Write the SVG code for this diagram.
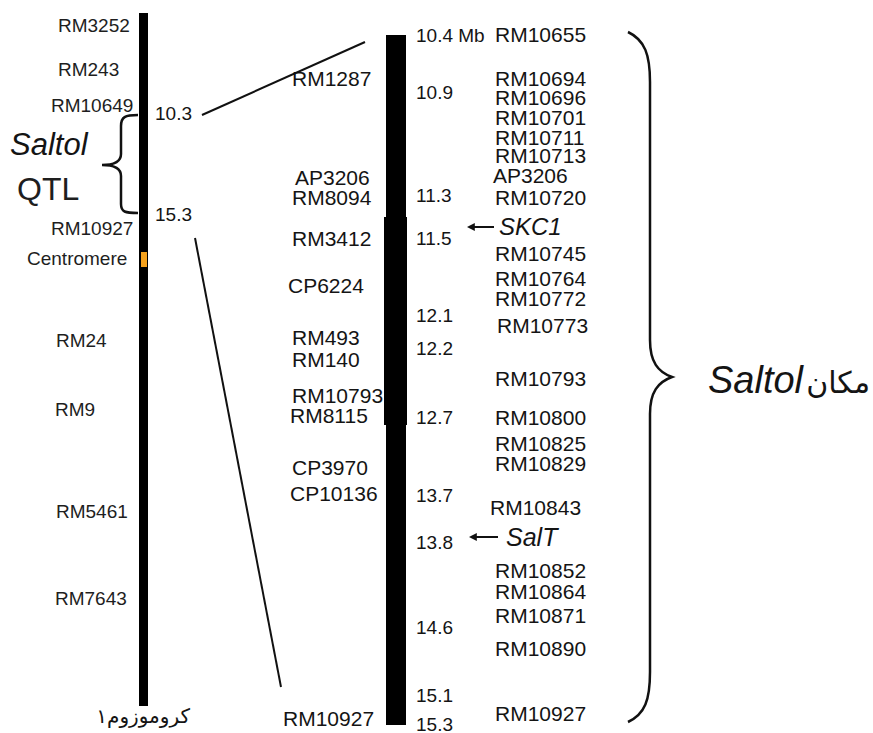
<svg xmlns="http://www.w3.org/2000/svg" width="873" height="733" viewBox="0 0 873 733">
<style>
.l{font-family:"Liberation Sans",Arial,sans-serif;font-size:19px;fill:#1e1e1e}
.m{font-family:"Liberation Sans",Arial,sans-serif;font-size:21px;fill:#141414}
.n{font-family:"Liberation Sans",Arial,sans-serif;font-size:19px;fill:#141414}
.it{font-family:"Liberation Sans",Arial,sans-serif;font-style:italic;fill:#141414}
.fa{font-family:"DejaVu Sans","Noto Sans",sans-serif;fill:#141414}
.ln{stroke:#111;stroke-width:2;fill:none}
.br{stroke:#111;stroke-width:2.5;fill:none}
</style>
<defs>
<marker id="ah" viewBox="0 0 10 10" refX="1" refY="5" markerWidth="4" markerHeight="4" orient="auto-start-reverse">
<path d="M0,0 L10,5 L0,10 z" fill="#111"/>
</marker>
</defs>
<rect width="873" height="733" fill="#fff"/>

<g id="chromosome1">
<rect x="139" y="13" width="9" height="693" fill="#000"/>
<rect x="141" y="252" width="6" height="15" fill="#f5a11c"/>
<text class="fa" x="190" y="723" font-size="20" text-anchor="end">کروموزوم۱</text>
</g>

<g id="chr1-labels">
<text class="l" x="58" y="32">RM3252</text>
<text class="l" x="58" y="76">RM243</text>
<text class="l" x="51" y="112">RM10649</text>
<text class="l" x="51" y="235">RM10927</text>
<text class="l" x="27" y="265">Centromere</text>
<text class="l" x="56" y="347">RM24</text>
<text class="l" x="55" y="416">RM9</text>
<text class="l" x="56" y="518">RM5461</text>
<text class="l" x="55" y="605">RM7643</text>
<text class="n" x="155" y="120">10.3</text>
<text class="n" x="155" y="221">15.3</text>
</g>

<g id="saltol-qtl">
<path class="br" d="M138,115 C125,115 121,117 121,126 L121,154 C121,162 114,165 102,165 C114,165 121,168 121,176 L121,204 C121,212 125,213 138,213"/>
<text class="it" x="10" y="155" font-size="31">Saltol</text>
<text class="l" x="17" y="200" font-size="32" style="font-size:32px">QTL</text>
</g>

<g id="middle-labels">
<text class="m" x="292" y="86">RM1287</text>
<text class="m" x="295" y="185">AP3206</text>
<text class="m" x="292" y="205">RM8094</text>
<text class="m" x="292" y="246">RM3412</text>
<text class="m" x="288" y="293">CP6224</text>
<text class="m" x="292" y="345">RM493</text>
<text class="m" x="292" y="367">RM140</text>
<text class="m" x="292" y="403">RM10793</text>
<text class="m" x="290" y="423">RM8115</text>
<text class="m" x="292" y="475">CP3970</text>
<text class="m" x="290" y="501">CP10136</text>
<text class="m" x="283" y="726">RM10927</text>
</g>

<g id="saltol-region">
<rect x="386" y="35" width="20" height="690" fill="#000"/>
<rect x="384" y="217" width="23" height="208" fill="#000"/>
</g>

<g id="positions">
<text class="n" x="416" y="42">10.4 Mb</text>
<text class="n" x="416" y="99">10.9</text>
<text class="n" x="416" y="202">11.3</text>
<text class="n" x="416" y="245">11.5</text>
<text class="n" x="416" y="322">12.1</text>
<text class="n" x="416" y="355">12.2</text>
<text class="n" x="416" y="424">12.7</text>
<text class="n" x="416" y="502">13.7</text>
<text class="n" x="416" y="549">13.8</text>
<text class="n" x="416" y="634">14.6</text>
<text class="n" x="416" y="702">15.1</text>
<text class="n" x="416" y="731">15.3</text>
</g>

<g id="right-labels">
<text class="m" x="495" y="42">RM10655</text>
<text class="m" x="495" y="86">RM10694</text>
<text class="m" x="495" y="105">RM10696</text>
<text class="m" x="495" y="125">RM10701</text>
<text class="m" x="495" y="145">RM10711</text>
<text class="m" x="495" y="163">RM10713</text>
<text class="m" x="493" y="183">AP3206</text>
<text class="m" x="495" y="205">RM10720</text>
<text class="m" x="495" y="261">RM10745</text>
<text class="m" x="495" y="286">RM10764</text>
<text class="m" x="495" y="306">RM10772</text>
<text class="m" x="497" y="333">RM10773</text>
<text class="m" x="495" y="386">RM10793</text>
<text class="m" x="495" y="425">RM10800</text>
<text class="m" x="495" y="451">RM10825</text>
<text class="m" x="495" y="471">RM10829</text>
<text class="m" x="490" y="515">RM10843</text>
<text class="m" x="495" y="578">RM10852</text>
<text class="m" x="495" y="599">RM10864</text>
<text class="m" x="495" y="623">RM10871</text>
<text class="m" x="495" y="656">RM10890</text>
<text class="m" x="495" y="721">RM10927</text>
</g>

<g id="genes">
<text class="it" x="499" y="235" font-size="24" style="font-size:24px">SKC1</text>
<text class="it" x="506" y="546" font-size="25" style="font-size:25px">SalT</text>
</g>

<g id="saltol-locus">
<path class="br" d="M628,32 C645,40 650,55 650,82 L650,340 C650,362 658,372 672,377 C658,382 650,392 650,414 L650,672 C650,700 645,714 628,722"/>
<text class="it" x="708" y="393" style="font-size:38px">Saltol</text>
<text class="fa" x="870" y="393" text-anchor="end" style="font-size:30px">مکان</text>
</g>

<g id="connectors">
<line class="ln" x1="202" y1="115" x2="365" y2="42"/>
<line class="ln" x1="195" y1="238" x2="281" y2="687"/>
<line class="ln" x1="494" y1="227" x2="474" y2="227" stroke-width="2.5" marker-end="url(#ah)"/>
<line class="ln" x1="498" y1="537" x2="476" y2="537" stroke-width="2.5" marker-end="url(#ah)"/>
</g>
</svg>
